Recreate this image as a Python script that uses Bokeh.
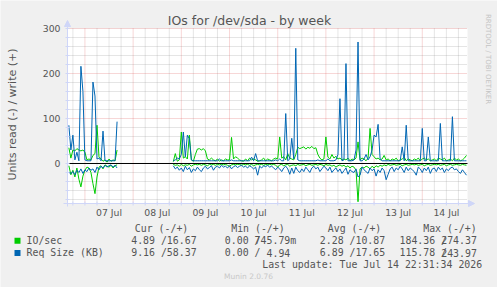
import numpy as np
from datetime import datetime, timedelta
from bokeh.plotting import figure
from bokeh.models import Range1d
from bokeh.core.properties import value
from bokeh.embed import file_html
from bokeh.resources import INLINE

# ---------------- data (hourly samples, hours counted from 07 Jul 00:00) ----------------
BASE = datetime(2026, 7, 7)
seg_a_first_hour = -8      # 06 Jul 16:00 .. 07 Jul 16:00
seg_b_first_hour = 44      # 08 Jul 20:00 .. 14 Jul 22:00

io_write_a = [35, 12, 30, 28, 33, 30, 28, 30, 25, 8, 10, 8, 18, 22, 85, 15, 10, 5, 8, 3, 10, 5, 8, 6, 30]
io_read_a = [-5, -25, -15, -30, -10, -35, -52, -28, -15, -8, -10, -20, -45, -67, -30, -8, -5, -12, -3, -6, -8, -4, -10, -5, -3]
req_write_a = [85, 30, 63, 8, 25, 6, 216, 160, 8, 6, 6, 6, 181, 150, 10, 12, 6, 72, 6, 6, 6, 6, 6, 6, 93]
req_read_a = [-20, -22, -18, -25, -15, -20, -12, -22, -14, -18, -10, -15, -12, -20, -8, -14, -6, -10, -4, -8, -5, -3, -8, -4, -10]

io_write_b = [
    4, 22, 5, 8, 70, 12, 15, 10, 63, 8, 5, 20,
    32, 33, 30, 33, 28, 10, 8, 12, 8, 6, 10, 5,
    8, 6, 10, 8, 8, 58, 10, 15, 12, 8, 6, 5,
    10, 6, 12, 8, 10, 8, 5, 6, 8, 12, 6, 10,
    8, 6, 10, 12, 10, 59, 12, 15, 8, 22, 12, 10,
    8, 20, 36, 33, 35, 37, 32, 36, 34, 38, 33, 35,
    20, 12, 8, 10, 59, 14, 10, 20, 12, 16, 10, 12,
    8, 10, 8, 12, 6, 10, 8, 12, 48, 8, 12, 10,
    6, 12, 78, 20, 15, 10, 12, 8, 10, 18, 8, 10,
    6, 10, 8, 12, 6, 8, 10, 14, 6, 10, 8, 6,
    10, 8, 12, 6, 10, 12, 8, 10, 6, 8, 10, 6,
    12, 10, 8, 12, 6, 8, 10, 6, 12, 8, 10, 6,
    8, 12, 18]
io_read_b = [
    -2, -4, -3, -6, -2, -5, -3, -4, -2, -6, -3, -2,
    -3, -2, -4, -2, -3, -5, -2, -3, -2, -4, -2, -3,
    -2, -3, -2, -4, -6, -3, -2, -3, -2, -2, -4, -2,
    -3, -2, -4, -2, -5, -3, -2, -3, -2, -4, -2, -3,
    -2, -3, -2, -4, -8, -3, -2, -5, -3, -2, -6, -4,
    -3, -5, -2, -4, -3, -2, -5, -3, -2, -4, -3, -2,
    -4, -2, -3, -5, -2, -4, -3, -6, -4, -8, -5, -3,
    -6, -4, -8, -5, -10, -6, -8, -15, -85, -12, -8, -10,
    -6, -8, -12, -6, -10, -5, -8, -4, -6, -3, -5, -2,
    -4, -3, -2, -4, -3, -2, -5, -3, -2, -4, -3, -2,
    -3, -2, -4, -3, -2, -5, -3, -2, -4, -3, -2, -3,
    -2, -4, -3, -2, -5, -3, -2, -4, -3, -2, -3, -4,
    -2, -3, -4]
req_write_b = [
    6, 8, 12, 10, 20, 70, 15, 63, 55, 8, 6, 6,
    6, 6, 6, 6, 6, 6, 6, 6, 6, 6, 6, 10,
    6, 6, 6, 6, 6, 8, 6, 6, 6, 6, 6, 6,
    6, 6, 6, 14, 6, 22, 6, 6, 6, 6, 6, 6,
    6, 6, 6, 8, 6, 10, 6, 6, 111, 6, 10, 56,
    10, 256, 8, 6, 6, 6, 6, 6, 6, 6, 6, 6,
    8, 6, 6, 6, 6, 10, 6, 6, 6, 8, 20, 144,
    6, 8, 222, 6, 6, 6, 8, 30, 270, 6, 6, 10,
    20, 8, 15, 30, 63, 59, 87, 10, 6, 6, 6, 6,
    6, 6, 6, 6, 6, 6, 37, 6, 85, 6, 6, 6,
    6, 6, 6, 6, 78, 6, 6, 59, 6, 6, 6, 6,
    6, 89, 6, 6, 6, 6, 6, 104, 6, 6, 6, 6,
    6, 6, 6]
req_read_b = [
    -5, -12, -8, -15, -10, -18, -6, -14, -9, -20, -12, -16,
    -8, -14, -18, -10, -6, -12, -9, -5, -15, -8, -6, -10,
    -4, -8, -6, -10, -5, -12, -7, -5, -9, -6, -4, -8,
    -6, -10, -5, -8, -12, -8, -26, -6, -10, -5, -7, -4,
    -8, -6, -10, -14, -8, -12, -18, -10, -6, -12, -24, -10,
    -22, -8, -16, -20, -12, -18, -8, -14, -20, -10, -6, -12,
    -8, -18, -12, -6, -10, -16, -8, -20, -14, -10, -18, -12,
    -22, -16, -10, -24, -14, -18, -20, -12, -30, -26, -8, -14,
    -18, -22, -10, -16, -12, -28, -14, -20, -10, -16, -36, -24,
    -12, -8, -18, -10, -14, -6, -12, -20, -8, -16, -10, -14,
    -18, -26, -8, -12, -20, -10, -16, -8, -22, -12, -10, -18,
    -8, -14, -10, -20, -12, -16, -10, -8, -14, -12, -18, -22,
    -14, -20, -26]

y_major_ticks = [0, 100, 200, 300]
x_tick_days = ["07 Jul", "08 Jul", "09 Jul", "10 Jul", "11 Jul", "12 Jul", "13 Jul", "14 Jul"]

legend_names = ["IO/sec", "Req Size (KB)"]
legend_colors = ["#00CC00", "#0066B3"]
stat_headers = ["Cur (-/+)", "Min (-/+)", "Avg (-/+)", "Max (-/+)"]
cur_vals = [("4.89", "16.67"), ("9.16", "58.37")]
min_vals = [("0.00", "745.79m"), ("0.00", "4.94")]
avg_vals = [("2.28", "10.87"), ("6.89", "17.65")]
max_vals = [("184.36", "274.37"), ("115.78", "243.97")]
last_update = "Last update: Tue Jul 14 22:31:34 2026"

# ---------------- build series ----------------
def series(a, b):
    n_gap = seg_b_first_hour - (seg_a_first_hour + len(a))
    return np.array(list(a) + [np.nan] * n_gap + list(b), dtype=float)

def ms(dt):
    return (dt - datetime(1970, 1, 1)).total_seconds() * 1000.0

hours = np.arange(seg_a_first_hour, seg_b_first_hour + len(io_write_b))
times = np.array([ms(BASE + timedelta(hours=int(h))) for h in hours])

io_w = series(io_write_a, io_write_b)
io_r = series(io_read_a, io_read_b)
rq_w = series(req_write_a, req_write_b)
rq_r = series(req_read_a, req_read_b)

# ---------------- geometry: plot area 400x175 at (67,28) on a 497x287 canvas ----------------
W, H = 497, 287
PL, PT, PW, PH = 67, 28, 400, 175
PR, PB = PL + PW, PT + PH
x_end = ms(datetime(2026, 7, 14, 22, 31))
x_start = x_end - 199.2 * 3600000.0
y_lo, y_hi = -88.9, 300.0
kx = (x_end - x_start) / PW
ky = (y_hi - y_lo) / PH

p = figure(width=W, height=H, x_range=Range1d(0, W), y_range=Range1d(H, 0),
           x_axis_type=None, y_axis_type=None, toolbar_location=None,
           output_backend="svg", title=None, min_border=0,
           border_fill_color="#F0F0F0", background_fill_color="#F0F0F0",
           outline_line_color=None)
p.extra_x_ranges = {"time": Range1d(x_start - PL * kx, x_start + (W - PL) * kx)}
p.extra_y_ranges = {"val": Range1d(y_lo - (H - PB) * ky, y_hi + PT * ky)}

AXC = "#CFD6F8"
FONT_C = "#555555"

# canvas area
p.quad(left=PL, right=PR, top=PT, bottom=PB, fill_color="white", line_color=None)

# grids
midnights = [ms(BASE + timedelta(days=d)) for d in range(0, 8)]
six_hours = [ms(BASE + timedelta(hours=h)) for h in range(-6, 192, 6) if h % 24 != 0]
six_hours = [t for t in six_hours if x_start < t < x_end]
noons = [ms(BASE + timedelta(days=d, hours=12)) for d in range(len(x_tick_days))]
y_minor = [v for v in range(-80, 300, 20) if v % 100 != 0]

def vgrid(ticks, color, alpha):
    p.segment(x0=ticks, y0=PT, x1=ticks, y1=PB, x_range_name="time",
              line_color=color, line_alpha=alpha, line_dash="1 1", line_width=1)

def hgrid(ticks, color, alpha):
    p.segment(x0=PL, y0=ticks, x1=PR, y1=ticks, y_range_name="val",
              line_color=color, line_alpha=alpha, line_dash="1 1", line_width=1)

vgrid(six_hours, "#8F8F8F", 0.45)
hgrid(y_minor, "#8F8F8F", 0.45)
vgrid(midnights, "#DE4F4F", 0.45)
hgrid(y_major_ticks, "#DE4F4F", 0.45)

# data lines
for vals, col in [(io_w, legend_colors[0]), (io_r, legend_colors[0]),
                  (rq_w, legend_colors[1]), (rq_r, legend_colors[1])]:
    p.line(times, vals, line_color=col, line_width=1, x_range_name="time", y_range_name="val")

# zero line
p.segment(x0=PL, y0=0, x1=PR, y1=0, y_range_name="val", line_color="black", line_width=1)

# axes lines, tick marks, arrows
p.segment(x0=[PL, PL - 4], y0=[PB + 3, PB], x1=[PL, PR + 2], y1=[PT - 3, PB], line_color=AXC, line_width=1)
p.segment(x0=PL - 2, y0=y_minor + y_major_ticks, x1=PL + 2, y1=y_minor + y_major_ticks,
          y_range_name="val", line_color=AXC, line_width=1)
p.segment(x0=six_hours + midnights, y0=PB - 2, x1=six_hours + midnights, y1=PB + 2,
          x_range_name="time", line_color=AXC, line_width=1)
p.patches(xs=[[PL - 3, PL + 3, PL], [PR + 1, PR + 1, PR + 7]],
          ys=[[PT - 2, PT - 2, PT - 8], [PB - 3, PB + 3, PB]],
          fill_color=AXC, line_color=AXC)

def txt(xs, ys, texts, font="DejaVu Sans Mono", size="9.9px", color=FONT_C, align="left",
        angle=0.0, xr="default", yr="default"):
    p.text(x=xs, y=ys, text=texts, text_font=value(font), text_font_size=value(size),
           text_color=color, text_align=align, text_baseline="middle", angle=angle,
           x_range_name=xr, y_range_name=yr)

# tick labels
txt([PL - 7] * len(y_major_ticks), y_major_ticks, [str(v) for v in y_major_ticks],
    font="DejaVu Sans", size="9.3px", align="right", yr="val")
txt(noons, [212.3] * len(noons), x_tick_days, font="DejaVu Sans", size="9.3px",
    align="center", xr="time")

# titles
txt([249], [19.5], ["IOs for /dev/sda - by week"], font="DejaVu Sans", size="12.5px", align="center")
txt([11.5], [114], ["Units read (-) / write (+)"], font="DejaVu Sans", size="11px",
    align="center", angle=np.pi / 2)
txt([487.5], [58.5], ["RRDTOOL / TOBI OETIKER"], font="DejaVu Sans", size="7px",
    color="#C4C4C4", align="center", angle=-np.pi / 2)

# legend
txt([134.3, 230.7, 327.3, 422.7], [227.7] * 4, stat_headers)
row_y = [239.8, 252.0]
box_top = [237.2, 249.4]
cw = 5.96
p.quad(left=14, right=20, top=box_top, bottom=[b + 6 for b in box_top],
       fill_color=legend_colors, line_color=None)
for i in range(2):
    y = row_y[i]
    mv = min_vals[i][1]
    mv_x = 254.1 + (0 if mv.endswith("m") else (6 - len(mv)) * cw)
    txt([26, 130.7, 224.3, mv_x, 319.3, 399, 399 + 7 * cw], [y] * 7,
        [legend_names[i],
         cur_vals[i][0] + " /" + cur_vals[i][1],
         min_vals[i][0] + " /", mv,
         avg_vals[i][0] + " /" + avg_vals[i][1],
         max_vals[i][0] + " /", max_vals[i][1]])

txt([261.7], [264.0], [last_update])
txt([248], [276], ["Munin 2.0.76"], font="DejaVu Sans", size="7.5px", color="#C8C8C8", align="center")

open("out.html", "w").write(file_html(p, INLINE))
